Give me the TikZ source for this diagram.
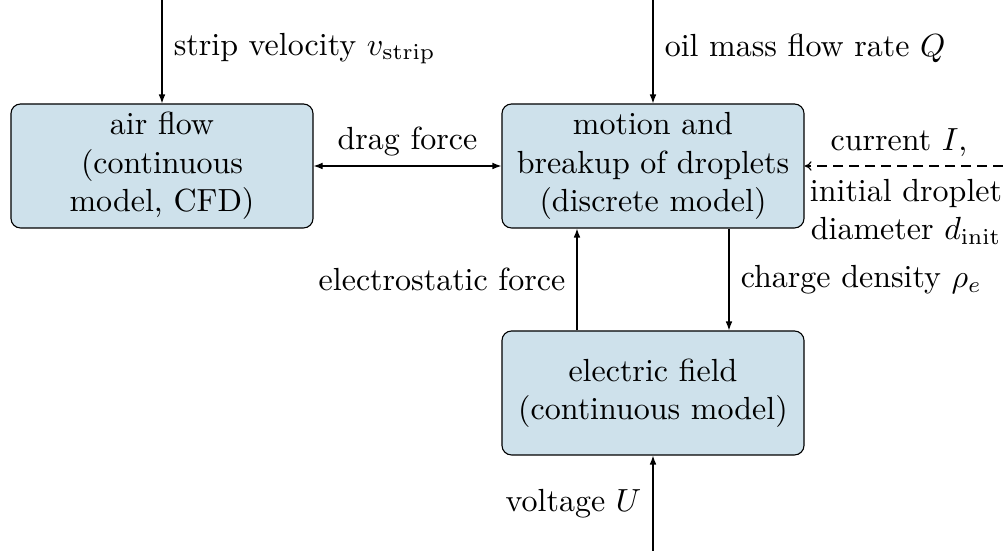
\documentclass[tikz,border=0pt]{standalone}
\usetikzlibrary{arrows.meta}
\definecolor{boxfill}{RGB}{206,225,235}
\begin{document}
\begin{tikzpicture}[x=0.3125pt,y=-0.3125pt,
  blk/.style={draw, rounded corners=3pt, fill=boxfill, align=center,
    minimum width=94.4pt, minimum height=38.75pt, inner sep=0pt, line width=0.35pt},
  arr/.style={-{Latex[length=2.8pt,width=2.1pt]}, line width=0.35pt},
  darr/.style={{Latex[length=2.8pt,width=2.1pt]}-{Latex[length=2.8pt,width=2.1pt]}, line width=0.35pt},
  dsh/.style={-{To[length=2.2pt,width=3pt]}, dash pattern=on 3pt off 2pt, line width=0.35pt},
  lbl/.style={inner sep=0pt, align=center}]
\useasboundingbox (0,0) rectangle (1003,551);
\node[blk] (air) at (162,166) {air flow\\(continuous\\model, CFD)};
\node[blk] (drop) at (653,166) {motion and\\breakup of droplets\\(discrete model)};
\node[blk] (el) at (653,393) {electric field\\(continuous model)};
\coordinate (tA) at (162,0);
\coordinate (tB) at (653,0);
\coordinate (rr) at (1003,166);
\coordinate (bb) at (653,551);
\draw[arr] (tA) -- (air.north) node[pos=0.47, right=3.5pt, lbl] {strip velocity $v_{\mathrm{strip}}$};
\draw[arr] (tB) -- (drop.north) node[pos=0.47, right=3.5pt, lbl] {oil mass flow rate $Q$};
\draw[darr] (air.east) -- (drop.west) node[midway, above=3pt, lbl] {drag force};
\draw[dsh] (rr) -- (drop.east);
\node[lbl] (cur) at (899,143) {current $I$,};
\node[lbl] (ini) at (906,212) {initial droplet\\diameter $d_{\mathrm{init}}$};
\draw[arr] (el.north -| 577,0) -- (drop.south -| 577,0) node[midway, left=3.5pt, lbl] {electrostatic force};
\draw[arr] (drop.south -| 729,0) -- (el.north -| 729,0) node[midway, right=3.5pt, lbl] {charge density $\rho_e$};
\draw[arr] (bb) -- (el.south) node[midway, left=3.5pt, lbl] {voltage $U$};
\end{tikzpicture}
\end{document}
